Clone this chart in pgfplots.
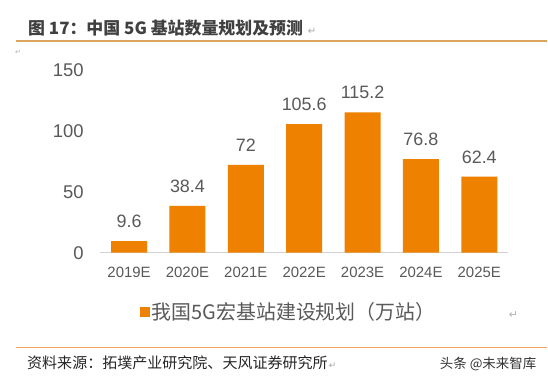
\documentclass[border=0pt]{standalone}
\usepackage{pgfplots}
\pgfplotsset{compat=1.18}
\usepackage{fontspec}
\setmainfont{Liberation Sans}
\newfontfamily\cjk{Noto Sans CJK SC}
\newfontfamily\djv{DejaVu Sans}
\definecolor{barc}{HTML}{EE8200}
\definecolor{tgray}{HTML}{595959}
\definecolor{ttl}{HTML}{404040}
\definecolor{line1}{HTML}{DDA45E}
\definecolor{line2}{HTML}{F0A060}
\begin{document}
\begin{tikzpicture}[x=1bp,y=1bp]
\fill[white] (0,0) rectangle (548,377);
% title
\node[anchor=base west, inner sep=0, text=ttl, font=\cjk\bfseries\fontsize{17}{17}\selectfont] at (28,342) {图 17：中国 5G 基站数量规划及预测};
\node[anchor=base west, inner sep=0, text=gray!70, font=\djv\fontsize{10}{10}\selectfont] at (308,342) {↵};
\draw[line1, line width=1.2bp] (16,336) -- (548,336);
\node[anchor=base west, inner sep=0, text=gray!60, font=\djv\fontsize{7}{7}\selectfont] at (15,322) {↵};
\begin{axis}[
  at={(100bp,124bp)}, anchor=origin,
  scale only axis, width=409bp, height=183bp,
  xmin=0, xmax=7, ymin=0, ymax=150,
  ybar, bar width=36bp,
  axis lines=left,
  y axis line style={draw=none},
  x axis line style={draw=black!18, line width=1bp, -},
  major tick length=0pt,
  xtick={0.5,1.5,2.5,3.5,4.5,5.5,6.5},
  xticklabels={2019E,2020E,2021E,2022E,2023E,2024E,2025E},
  ytick={0,50,100,150},
  xticklabel style={font=\fontsize{15}{15}\selectfont, text=tgray, inner sep=0pt, anchor=base, yshift=-25bp},
  yticklabel style={font=\fontsize{18.5}{18.5}\selectfont, text=tgray, inner sep=0pt, anchor=east, xshift=-16bp},
  /pgf/number format/assume math mode=true,
  nodes near coords,
  nodes near coords style={font=\fontsize{18}{18}\selectfont, text=tgray, anchor=base, inner sep=0pt, yshift=13.5bp},
  point meta=explicit symbolic,
  legend style={at={(0.462,-0.3224)}, anchor=center, draw=none, fill=none, font=\cjk\fontsize{20}{20}\selectfont, text=tgray, inner sep=0pt},
  legend image code/.code={\fill[barc] (0bp,-5bp) rectangle (10bp,5bp);},
]
\addplot[fill=barc, draw=none] coordinates {
(0.5,9.6) [9.6]
(1.5,38.4) [38.4]
(2.5,72) [72]
(3.5,105.6) [105.6]
(4.5,115.2) [115.2]
(5.5,76.8) [76.8]
(6.5,62.4) [62.4]
};
\addlegendentry{我国5G宏基站建设规划（万站）}
\end{axis}
\node[anchor=center, inner sep=0, text=gray!60, font=\djv\fontsize{11}{11}\selectfont] at (514,62) {↵};
\draw[line2, line width=1.2bp] (16,29) -- (548,29);
\node[anchor=base west, inner sep=0, text=black!85, font=\cjk\fontsize{15.1}{15.1}\selectfont] at (27,8) {资料来源：拓墣产业研究院、天风证券研究所};
\node[anchor=base west, inner sep=0, text=gray!70, font=\djv\fontsize{9}{9}\selectfont] at (329,8) {↵};
\node[anchor=base east, inner sep=0, text=black!80, font=\cjk\fontsize{13.5}{13.5}\selectfont] at (537,8) {头条 @未来智库};
\end{tikzpicture}
\end{document}
